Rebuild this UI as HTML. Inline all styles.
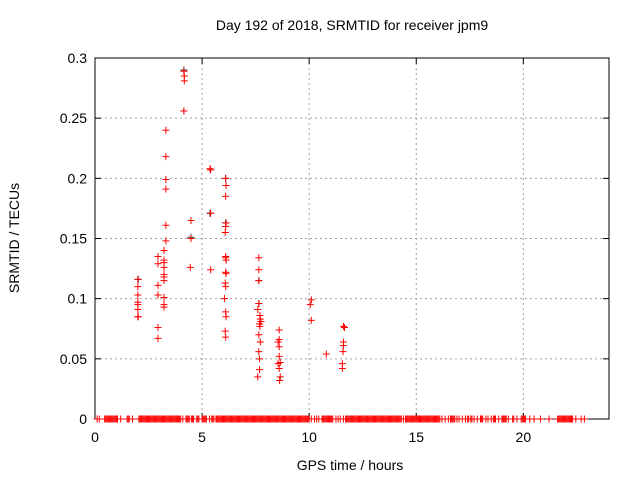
<!DOCTYPE html>
<html><head><meta charset="utf-8"><style>
html,body{margin:0;padding:0;background:#fff;}
svg text{font-family:"Liberation Sans",sans-serif;font-size:14px;fill:#000;}
</style></head><body>
<svg id="chart" width="640" height="480" xmlns="http://www.w3.org/2000/svg">
<rect width="640" height="480" fill="#fff"/>
<text x="352" y="30" text-anchor="middle">Day 192 of 2018, SRMTID for receiver jpm9</text>
<text x="350" y="470" text-anchor="middle">GPS time / hours</text>
<text transform="translate(19,238) rotate(-90)" text-anchor="middle">SRMTID / TECUs</text>
<g id="grid"></g>
<g id="axes"></g>
<g id="marks"></g>
</svg>
<script>
const xTicks=[0,5,10,15,20];
const yTicks=[0,0.05,0.1,0.15,0.2,0.25,0.3];
const yTickLabels=["0","0.05","0.1","0.15","0.2","0.25","0.3"];
const redX=[2.0,2.0,2.0,2.0,2.0,2.0,2.0,2.02,
2.94,2.94,2.94,2.94,2.94,2.94,
3.22,3.22,3.22,3.22,3.22,3.22,3.22,3.22,3.22,3.22,
3.31,3.31,3.31,3.31,3.31,3.31,
4.15,4.17,4.17,4.15,
4.48,4.48,4.45,
5.37,5.4,5.4,5.4,
6.1,6.12,6.1,6.12,6.1,6.08,6.1,6.1,6.12,6.1,6.12,6.08,6.1,6.05,6.1,6.12,6.08,6.1,
7.65,7.65,7.65,7.65,7.6,7.7,7.72,7.75,7.68,7.7,7.65,7.72,7.65,7.68,7.68,7.6,
8.6,8.6,8.55,8.6,8.6,8.65,8.55,8.6,8.65,8.62,
10.1,10.05,10.1,
10.8,
11.6,11.65,11.6,11.6,11.58,11.55,11.55];
const redY=[0.116,0.110,0.103,0.097,0.095,0.091,0.085,0.085,
0.135,0.129,0.111,0.103,0.076,0.067,
0.140,0.132,0.130,0.126,0.120,0.118,0.115,0.101,0.095,0.093,
0.240,0.218,0.199,0.191,0.161,0.148,
0.289,0.285,0.281,0.256,
0.165,0.150,0.126,
0.208,0.207,0.171,0.124,
0.200,0.194,0.185,0.163,0.160,0.155,0.135,0.134,0.132,0.122,0.121,0.113,0.110,0.100,0.089,0.085,0.073,0.068,
0.134,0.124,0.115,0.096,0.091,0.086,0.083,0.081,0.079,0.077,0.070,0.064,0.056,0.050,0.041,0.035,
0.074,0.066,0.064,0.060,0.052,0.047,0.046,0.042,0.035,0.032,
0.099,0.095,0.082,
0.054,
0.077,0.076,0.064,0.061,0.056,0.046,0.042];
const blackX=[4.15,4.15,4.48,5.37,6.1,6.1,7.65,7.65,2.02,2.94];
const blackY=[0.290,0.256,0.151,0.171,0.200,0.163,0.096,0.115,0.116,0.103];
const zeroX=[0.1,0.2,0.45,0.55,0.65,0.75,0.85,0.95,1.05,1.2,1.5,1.6,1.75,2.1,2.15,2.25,2.3,2.4,2.5,2.6,2.7,2.8,2.9,3.0,3.1,3.2,3.3,3.4,3.5,3.6,3.7,3.8,3.9,4.0,4.1,4.25,4.35,4.5,4.6,4.75,4.85,5.0,5.1,5.2,5.35,5.45,5.55,5.7,5.8,5.9,6.0,6.1,6.2,6.3,6.4,6.5,6.6,6.7,6.8,6.9,7.0,7.1,7.2,7.3,7.4,7.5,7.6,7.7,7.8,7.9,8.0,8.1,8.2,8.3,8.4,8.5,8.6,8.7,8.8,8.9,9.0,9.1,9.2,9.3,9.4,9.5,9.6,9.7,9.8,9.9,10.0,10.1,10.25,10.35,10.45,10.6,10.7,10.8,10.9,11.0,11.1,11.25,11.35,11.45,11.6,11.7,11.8,11.9,12.0,12.1,12.2,12.3,12.4,12.5,12.6,12.7,12.8,12.9,13.0,13.1,13.2,13.3,13.4,13.5,13.6,13.7,13.8,13.9,14.0,14.1,14.2,14.3,14.4,14.5,14.6,14.7,14.8,14.9,15.0,15.1,15.2,15.3,15.4,15.5,15.6,15.7,15.8,15.9,16.0,16.1,16.2,16.35,16.5,16.6,16.7,16.8,16.9,17.0,17.15,17.3,17.4,17.55,17.7,17.85,18.0,18.1,18.25,18.35,18.5,18.6,18.7,18.85,19.0,19.1,19.2,19.3,19.5,19.7,19.9,20.0,20.1,20.3,20.5,20.8,21.2,21.6,21.7,21.8,21.9,22.0,22.1,22.2,22.3,22.45,22.7,22.85,
0.5,0.6,0.7,0.8,0.9,1.0,1.55,2.05,2.2,2.35,2.45,2.55,2.65,2.75,2.85,2.95,3.05,3.15,3.25,3.35,3.45,3.55,3.65,3.75,3.85,3.95,4.3,4.4,4.55,4.8,5.05,5.15,5.5,5.65,5.75,5.85,5.95,6.05,6.15,6.25,6.35,6.45,6.55,6.65,6.75,6.85,6.95,7.05,7.15,7.25,7.35,7.45,7.55,7.65,7.75,7.85,7.95,8.05,8.15,8.25,8.35,8.45,8.55,8.65,8.75,8.85,8.95,9.05,9.15,9.25,9.35,9.45,9.55,9.65,9.75,9.85,9.95,10.65,10.75,10.85,10.95,11.05,11.75,11.85,11.95,12.05,12.15,12.25,12.35,12.45,12.55,12.65,12.75,12.85,12.95,13.05,13.15,13.25,13.35,13.45,13.55,13.65,13.75,13.85,13.95,14.05,14.15,14.25,14.55,14.65,14.75,14.85,14.95,15.05,15.15,15.25,15.35,15.45,15.55,15.65,15.75,15.85,15.95,16.05,16.65,16.75,17.45,17.6,18.05,18.65,19.05,19.15,19.55,19.95,20.05,21.65,21.75,21.85,21.95,22.05,22.15,22.25];
const X0=95,X1=609,Y0=419,Y1=58,XMAX=24,YMAX=0.3;
function sx(v){return X0+(X1-X0)*v/XMAX;}
function sy(v){return Y0-(Y0-Y1)*v/YMAX;}
const NS="http://www.w3.org/2000/svg";
function mk(tag,attrs,parent){const e=document.createElementNS(NS,tag);for(const k in attrs)e.setAttribute(k,attrs[k]);parent.appendChild(e);return e;}
const grid=document.getElementById('grid'),axes=document.getElementById('axes'),marks=document.getElementById('marks');
xTicks.forEach((t,i)=>{const x=sx(t);
 if(i>0){const g=mk('line',{x1:x,x2:x,y1:Y1,y2:Y0,stroke:'#a0a0a0','stroke-dasharray':'2,3'},grid);
 
 }
 mk('line',{x1:x,x2:x,y1:Y0,y2:Y0-6,stroke:'#000'},axes);
 mk('line',{x1:x,x2:x,y1:Y1,y2:Y1+6,stroke:'#000'},axes);
 const tx=mk('text',{x:x,y:Y0+23,'text-anchor':'middle'},axes);tx.textContent=String(t);
 
 
});
yTicks.forEach((t,i)=>{const y=sy(t);
 if(i>0&&i<yTicks.length-1){const g=mk('line',{x1:X0,x2:X1,y1:y,y2:y,stroke:'#a0a0a0','stroke-dasharray':'2,3'},grid);
 
 }
 mk('line',{x1:X0,x2:X0+6,y1:y,y2:y,stroke:'#000'},axes);
 mk('line',{x1:X1,x2:X1-6,y1:y,y2:y,stroke:'#000'},axes);
 const tx=mk('text',{x:X0-8,y:y+5,'text-anchor':'end'},axes);tx.textContent=yTickLabels[i];
 
 
});
mk('rect',{x:X0,y:Y1,width:X1-X0,height:Y0-Y1,fill:'none',stroke:'#000'},axes);
function plus(x,y,c,name){const p=mk('path',{d:`M${x-3.5},${y}h7M${x},${y-3.5}v7`,stroke:c,'stroke-width':1,fill:'none'},marks);
 
 }
blackX.forEach((v,i)=>plus(sx(v),sy(blackY[i]),'#333333','srmtid-point-dark'));
zeroX.forEach(v=>plus(sx(v),sy(0),'#ff0000','zero-point'));
redX.forEach((v,i)=>plus(sx(v),sy(redY[i]),'#ff0000','srmtid-point'));
</script>
</body></html>
